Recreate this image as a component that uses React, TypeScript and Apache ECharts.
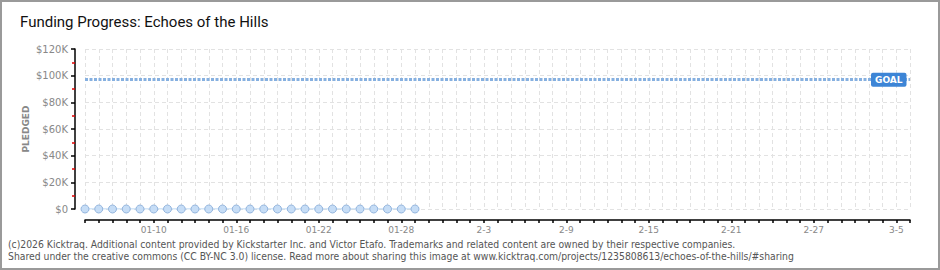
import React, { useEffect, useRef } from "react";
import * as echarts from "echarts";

const TITLE = "Funding Progress: Echoes of the Hills";
const FOOTER_1 =
  "(c)2026 Kicktraq. Additional content provided by Kickstarter Inc. and Victor Etafo. Trademarks and related content are owned by their respective companies.";
const FOOTER_2 =
  "Shared under the creative commons (CC BY-NC 3.0) license. Read more about sharing this image at www.kicktraq.com/projects/1235808613/echoes-of-the-hills/#sharing";

// Date range of the x axis: 2026-01-05 .. 2026-03-06
const START = { month: 1, day: 5 };
const DAY_COUNT = 61;
const MONTH_LENGTHS = [31, 28, 31];

// Pledged amounts (USD) for each day with data, starting 01-05
const PLEDGED = [
  0, 0, 0, 0, 0, 0, 0, 0, 0, 0, 0, 0, 0, 0, 0, 0, 0, 0, 0, 0, 0, 0, 0, 0, 0,
];
const GOAL = 97000;

const Y_MIN = 0;
const Y_MAX = 120000;
const Y_INTERVAL = 20000;
const LABEL_EVERY = 6;
const FIRST_LABEL_INDEX = 5;

function buildCategories(): string[] {
  const out: string[] = [];
  let m = START.month;
  let d = START.day;
  for (let i = 0; i < DAY_COUNT; i++) {
    out.push(m === 1 ? `0${m}-${d < 10 ? "0" + d : d}` : `${m}-${d}`);
    d++;
    if (d > MONTH_LENGTHS[m - 1]) {
      d = 1;
      m++;
    }
  }
  return out;
}

export default function App() {
  const ref = useRef<HTMLDivElement>(null);

  useEffect(() => {
    if (!ref.current) return;
    const chart = echarts.init(ref.current, null, { renderer: "svg" });
    const categories = buildCategories();
    const labelFont = "'DejaVu Sans', sans-serif";

    chart.setOption({
      animation: false,
      backgroundColor: "#ffffff",
      title: {
        text: TITLE,
        left: 20,
        top: 14,
        padding: 0,
        textStyle: {
          fontFamily: "Roboto, sans-serif",
          fontSize: 15,
          fontWeight: "normal",
          color: "#111111",
        },
      },
      graphic: [
        {
          type: "text",
          left: 8,
          top: 238,
          style: {
            text: FOOTER_1 + "\n" + FOOTER_2,
            fontFamily: "'Liberation Sans Narrow', 'DejaVu Sans Condensed', sans-serif",
            fontSize: 10.3,
            lineHeight: 12,
            fill: "#555555",
          },
        },
      ],
      grid: { left: 85, right: 30, top: 49, bottom: 61 },
      xAxis: {
        type: "category",
        data: categories,
        boundaryGap: false,
        offset: 11,
        axisLine: { show: true, onZero: false, lineStyle: { color: "#000000", width: 1.5 } },
        axisTick: {
          show: true,
          interval: 0,
          length: 3,
          lineStyle: { color: "#000000", width: 1.5 },
        },
        axisLabel: {
          interval: (idx: number) =>
            idx >= FIRST_LABEL_INDEX && (idx - FIRST_LABEL_INDEX) % LABEL_EVERY === 0,
          margin: 5,
          fontFamily: labelFont,
          fontSize: 9,
          color: "#888888",
        },
        splitLine: {
          show: true,
          interval: 0,
          lineStyle: { color: "#e2e2e2", type: [4, 3], width: 1 },
        },
      },
      yAxis: {
        type: "value",
        min: Y_MIN,
        max: Y_MAX,
        interval: Y_INTERVAL,
        offset: 10,
        name: "PLEDGED",
        nameLocation: "middle",
        nameRotate: 90,
        nameGap: 45,
        nameMoveOverlap: false,
        nameTextStyle: {
          fontFamily: labelFont,
          fontSize: 9,
          fontWeight: "bold",
          color: "#888888",
        },
        axisLine: { show: true, onZero: false, lineStyle: { color: "#000000", width: 1.5 } },
        axisTick: { show: true, length: 4, lineStyle: { color: "#000000", width: 1.5 } },
        minorTick: {
          show: true,
          splitNumber: 2,
          length: 3,
          lineStyle: { color: "#e00000", width: 1.5 },
        },
        axisLabel: {
          margin: 7,
          fontFamily: labelFont,
          fontSize: 10,
          color: "#888888",
          formatter: (v: number) => (v === 0 ? "$0" : `$${v / 1000}K`),
        },
        splitLine: {
          show: true,
          lineStyle: { color: "#e2e2e2", type: [4, 3], width: 1 },
        },
      },
      series: [
        {
          name: "Pledged",
          type: "line",
          data: PLEDGED,
          symbol: "circle",
          symbolSize: 8,
          lineStyle: { color: "#a9cdf2", width: 1.2 },
          itemStyle: { color: "#c6ddf6", borderColor: "#95b6de", borderWidth: 1 },
          markLine: {
            silent: true,
            symbol: ["none", "none"],
            data: [{ yAxis: GOAL }],
            lineStyle: { color: "#86b0e0", width: 3, type: [3, 1.5] },
            label: {
              show: true,
              position: "end",
              distance: 0,
              offset: [-39, 0],
              formatter: "GOAL",
              backgroundColor: "#3d85d6",
              borderRadius: 2,
              padding: [3, 4, 2, 4],
              color: "#ffffff",
              fontFamily: labelFont,
              fontSize: 9,
              fontWeight: "bold",
            },
          },
        },
      ],
    });

    return () => chart.dispose();
  }, []);

  return (
    <div style={{ position: "fixed", left: 0, top: 0, width: 940, height: 270 }}>
      <div ref={ref} style={{ position: "absolute", left: 0, top: 0, width: 940, height: 270 }} />
      <div
        style={{
          position: "absolute",
          left: 0,
          top: 0,
          width: 940,
          height: 270,
          boxSizing: "border-box",
          border: "2px solid #9a9a9a",
          pointerEvents: "none",
        }}
      />
    </div>
  );
}
